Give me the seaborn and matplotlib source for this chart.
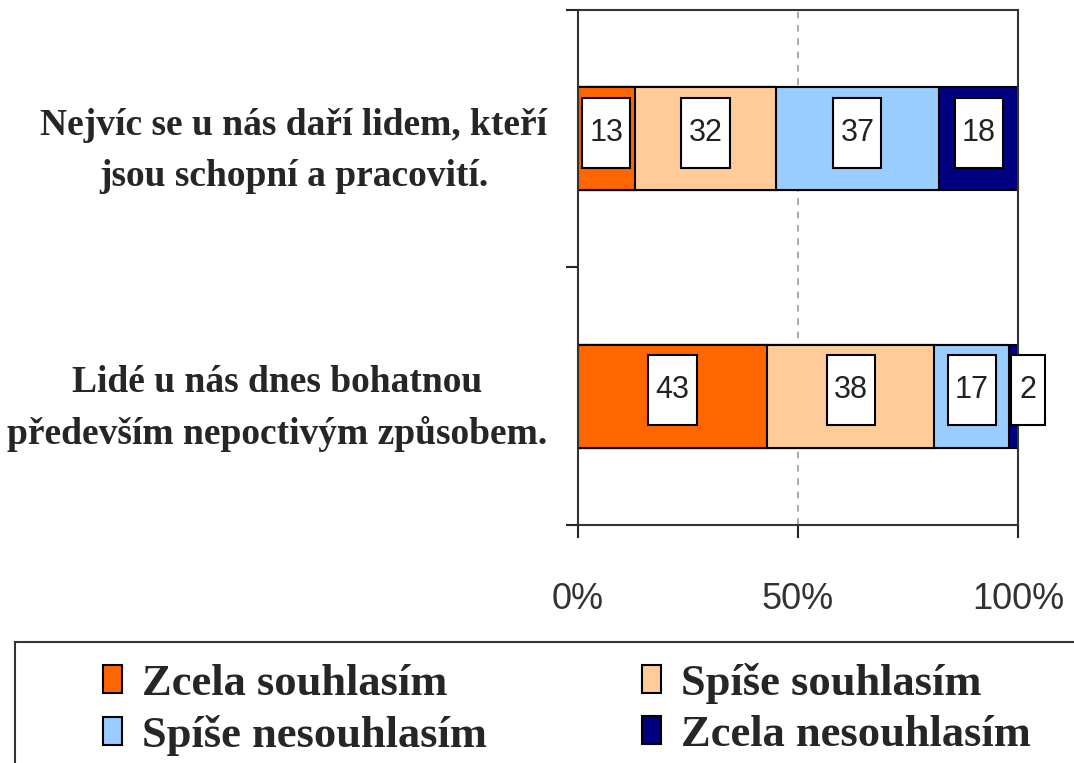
import numpy as np
import pandas as pd
import matplotlib
matplotlib.use("Agg")
import matplotlib.pyplot as plt
import seaborn as sns
from matplotlib.patches import Rectangle

# ------------------------------------------------------------------ #
# Data
# ------------------------------------------------------------------ #
questions = [
    "Nejvíc se u nás daří lidem, kteří\njsou schopní a pracovití.",
    "Lidé u nás dnes bohatnou\npředevším nepoctivým způsobem.",
]
levels = ["Zcela souhlasím", "Spíše souhlasím", "Spíše nesouhlasím", "Zcela nesouhlasím"]
zcela_souhlasim = [13, 43]
spise_souhlasim = [32, 38]
spise_nesouhlasim = [37, 17]
zcela_nesouhlasim = [18, 2]
colors = ["#FF6600", "#FFCC99", "#99CCFF", "#000080"]
xticks = [0, 50, 100]
xticklabels = ["0%", "50%", "100%"]

values = np.array([zcela_souhlasim, spise_souhlasim, spise_nesouhlasim, zcela_nesouhlasim])
cum = values.cumsum(axis=0)

df = pd.DataFrame({"question": np.repeat(questions, len(levels)),
                   "level": levels * len(questions),
                   "value": values.T.flatten(),
                   "cum": cum.T.flatten()})

# ------------------------------------------------------------------ #
# Plot
# ------------------------------------------------------------------ #
sns.set_style("ticks")
plt.rcParams["font.family"] = ["Liberation Serif", "DejaVu Serif"]

fig = plt.figure(figsize=(10.74, 7.63), dpi=100)
ax = fig.add_axes([0.538, 0.312, 0.410, 0.675])

# stacked bars: draw cumulative totals from the longest down
for lvl, col in reversed(list(zip(levels, colors))):
    sub = df[df["level"] == lvl]
    sns.barplot(data=sub, x="cum", y="question", order=questions, color=col,
                orient="h", width=0.4, edgecolor="black", linewidth=1.5,
                saturation=1, ax=ax, zorder=2)

# value labels in white boxes
px_x = 100 / 440.0       # data units per pixel (x)
px_y = 1.0 / 258.0       # data units per pixel (y)
for qi, q in enumerate(questions):
    prev_right = -np.inf
    sub = df[df["question"] == q]
    for _, row in sub.iterrows():
        txt = str(row["value"])
        w = (20 + 14 * len(txt)) * px_x
        h = 70 * px_y
        cx = row["cum"] - row["value"] / 2
        cx = max(cx, prev_right + 3.5 + w / 2)
        prev_right = cx + w / 2
        cy = qi - 6 * px_y
        ax.add_patch(Rectangle((cx - w / 2, cy - h / 2), w, h, facecolor="white",
                               edgecolor="black", linewidth=1.5, zorder=4,
                               clip_on=False))
        ax.text(cx, cy, txt, ha="center", va="center", fontsize=22,
                family=["Liberation Sans", "DejaVu Sans"], color="#222222",
                zorder=5)

# axes styling
ax.set_xlim(0, 100)
ax.set_ylim(1.5, -0.5)
ax.set_xticks(xticks)
ax.set_xticklabels(xticklabels, family=["Liberation Sans", "DejaVu Sans"],
                   fontsize=26, color="#333333")
ax.set_yticks([-0.5, 0.5, 1.5])
ax.set_yticklabels([])
ax.set_yticks([0, 1], minor=True)
ax.set_yticklabels(questions, minor=True, fontsize=27, fontweight="bold",
                   multialignment="center", linespacing=1.6)
ax.tick_params(axis="y", which="major", length=9, width=1.5, direction="out")
ax.tick_params(axis="y", which="minor", length=0, pad=22)
ax.tick_params(axis="x", length=9, width=1.5, direction="out", pad=32)
ax.set_xlabel("")
ax.set_ylabel("")
ax.grid(axis="x", linestyle=(0, (4, 4)), color="#999999", linewidth=1.2)
ax.set_axisbelow(True)
for s in ax.spines.values():
    s.set_visible(True)
    s.set_color("#333333")
    s.set_linewidth(1.5)

# legend with a frame running off the figure edge
fig.add_artist(Rectangle((15 / 1074, -0.05), 1.1, 1 - 642 / 763 + 0.05,
                         transform=fig.transFigure, facecolor="white",
                         edgecolor="#333333", linewidth=1.5))
handles = [Rectangle((0, 0), 1, 1, facecolor=c, edgecolor="black", linewidth=1.5)
           for c in colors]
order = [0, 2, 1, 3]     # fill legend row by row
fig.legend([handles[i] for i in order], [levels[i] for i in order],
           loc="upper left", bbox_to_anchor=(0.096, 0.131),
           ncol=2, frameon=False, prop={"size": 32, "weight": "bold"},
           handlelength=0.42, handleheight=0.6, handletextpad=0.45,
           columnspacing=3.5, labelspacing=0.24, borderpad=0,
           borderaxespad=0)

fig.savefig("out.png", dpi=100)
